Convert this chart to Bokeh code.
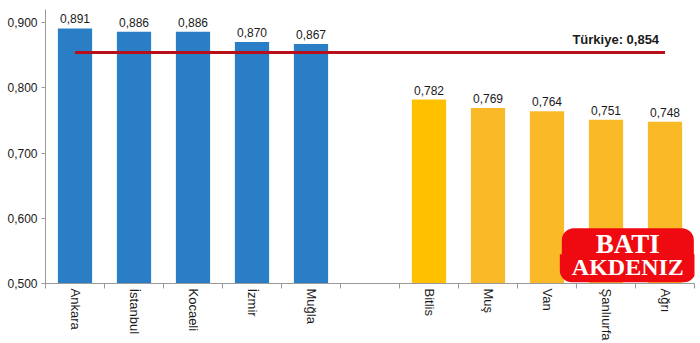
import math
from bokeh.plotting import figure
from bokeh.models import FixedTicker, Label, ColumnDataSource, Range1d
from bokeh.embed import file_html
from bokeh.resources import INLINE

west_names = ["Ankara", "İstanbul", "Kocaeli", "İzmir", "Muğla"]
west_values = [0.891, 0.886, 0.886, 0.870, 0.867]
east_names = ["Bitlis", "Muş", "Van", "Şanlıurfa", "Ağrı"]
east_values = [0.782, 0.769, 0.764, 0.751, 0.748]
east_colors = ["#FFC000", "#FABA28", "#FABA28", "#FABA28", "#FABA28"]
turkey_value = 0.854
turkey_label = "Türkiye: 0,854"
y_ticks = [0.5, 0.6, 0.7, 0.8, 0.9]

def fmt(v):
    return f"{v:.3f}".replace(".", ",")

west_x = [i + 0.5 for i in range(len(west_names))]
east_x = [len(west_names) + 1 + i + 0.5 for i in range(len(east_names))]
n_slots = len(west_names) + 1 + len(east_names)

p = figure(width=700, height=343, output_backend="svg", toolbar_location=None,
           x_range=Range1d(0, n_slots), y_range=Range1d(0.5, 0.92),
           min_border_left=45, min_border_right=6, min_border_top=9, min_border_bottom=55)
p.outline_line_color = None
p.xgrid.visible = False
p.ygrid.visible = False
p.background_fill_color = "white"

src_w = ColumnDataSource(dict(x=west_x, top=west_values, lab=[fmt(v) for v in west_values]))
src_e = ColumnDataSource(dict(x=east_x, top=east_values, lab=[fmt(v) for v in east_values], c=east_colors))

p.vbar(x="x", top="top", bottom=0.5, width=0.58, source=src_w, color="#2A7EC6", line_color=None)
p.vbar(x="x", top="top", bottom=0.5, width=0.58, source=src_e, fill_color="c", line_color=None)

for s in (src_w, src_e):
    p.text(x="x", y="top", text="lab", source=s, text_align="center", text_baseline="bottom",
           y_offset=-5, text_font_size="12px", text_color="#1a1a1a",
           text_font={"value": "Liberation Sans"})

p.segment(x0=west_x[0], x1=east_x[-1], y0=turkey_value, y1=turkey_value,
          line_color="#B8101A", line_width=3)
p.add_layout(Label(x=east_x[-1] - 0.1, y=turkey_value, y_offset=6, text=turkey_label,
                   text_align="right", text_baseline="bottom", text_font_style="bold",
                   text_font_size="13px", text_font="Liberation Sans", text_color="#1a1a1a"))

# x axis
centers = west_x + east_x
names = west_names + east_names
p.xaxis.ticker = FixedTicker(ticks=centers, minor_ticks=list(range(n_slots + 1)))
p.xaxis.major_label_overrides = {c: n for c, n in zip(centers, names)}
p.xaxis.major_label_orientation = -math.pi / 2
p.xaxis.major_tick_out = 0
p.xaxis.major_tick_in = 0
p.xaxis.minor_tick_out = 5
p.xaxis.minor_tick_in = 0
p.xaxis.major_label_standoff = 0
p.xaxis.major_label_text_font_size = "13px"
p.xaxis.major_label_text_font = "Liberation Sans"
p.xaxis.major_label_text_color = "#1a1a1a"
p.xaxis.axis_line_color = "#9a9a9a"
p.xaxis.minor_tick_line_color = "#9a9a9a"

# y axis
p.yaxis.ticker = FixedTicker(ticks=y_ticks, minor_ticks=[])
p.yaxis.major_label_overrides = {t: fmt(t) for t in y_ticks}
p.yaxis.major_tick_out = 4
p.yaxis.major_tick_in = 0
p.yaxis.minor_tick_line_color = None
p.yaxis.major_label_standoff = 4
p.yaxis.major_label_text_font_size = "12px"
p.yaxis.major_label_text_font = "Liberation Sans"
p.yaxis.major_label_text_color = "#1a1a1a"
p.yaxis.axis_line_color = "#9a9a9a"
p.yaxis.major_tick_line_color = "#9a9a9a"

# watermark
p.add_layout(Label(x=9.87, y=0.5235, text="AKDENIZ", text_align="center",
                   text_baseline="middle", text_font="Liberation Serif", text_font_style="bold",
                   text_font_size="24px", text_color="white",
                   background_fill_color="#EE0A10",
                   border_radius=dict(top_left=0, top_right=0, bottom_right=12, bottom_left=12),
                   padding=dict(left=12, right=12, top=0, bottom=2), level="overlay"))
p.add_layout(Label(x=9.87, y=0.561, text="BATI", text_align="center",
                   text_baseline="middle", text_font="Liberation Serif", text_font_style="bold",
                   text_font_size="27px", text_color="white",
                   background_fill_color="#EE0A10",
                   border_radius=dict(top_left=12, top_right=12, bottom_right=0, bottom_left=0),
                   padding=dict(left=34, right=34, top=1, bottom=0), level="overlay"))

open("out.html", "w").write(file_html(p, INLINE))
